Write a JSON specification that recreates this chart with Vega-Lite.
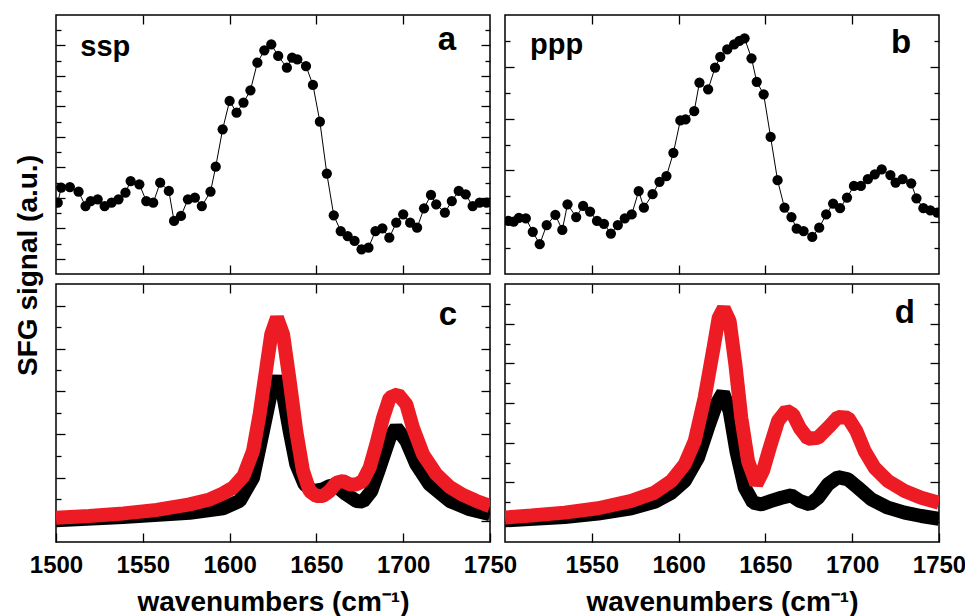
{
  "$schema": "https://vega.github.io/schema/vega-lite/v6.json",
  "background": "white",
  "padding": {"left": 13, "top": 13, "right": 0, "bottom": 0},
  "config": {
    "view": {"stroke": "black", "strokeWidth": 1.5},
    "font": "Liberation Sans",
    "axis": {"domain": false, "grid": false, "tickColor": "black", "tickWidth": 1.3, "labelFont": "Liberation Sans", "titleFont": "Liberation Sans", "labelFontWeight": "bold", "titleFontWeight": "bold", "labelColor": "black", "titleColor": "black"}
  },
  "datasets": {
    "a": [
      {"wn":1501,"v":4.68},{"wn":1503,"v":5.67},{"wn":1508,"v":5.71},{"wn":1513,"v":5.40},{"wn":1517,"v":4.46},{"wn":1520,"v":4.79},{"wn":1524,"v":4.90},{"wn":1528,"v":4.46},{"wn":1532,"v":4.68},{"wn":1536,"v":4.90},{"wn":1540,"v":5.34},{"wn":1543,"v":6.10},{"wn":1548,"v":5.89},{"wn":1552,"v":4.79},{"wn":1556,"v":4.68},{"wn":1560,"v":5.99},{"wn":1565,"v":5.45},{"wn":1568,"v":3.48},{"wn":1572,"v":3.81},{"wn":1576,"v":4.90},{"wn":1580,"v":5.01},{"wn":1584,"v":4.46},{"wn":1589,"v":5.40},{"wn":1592,"v":7.04},{"wn":1596,"v":9.50},{"wn":1600,"v":11.36},{"wn":1604,"v":10.59},{"wn":1608,"v":11.25},{"wn":1612,"v":12.06},{"wn":1616,"v":13.87},{"wn":1620,"v":14.68},{"wn":1624,"v":15.07},{"wn":1628,"v":14.31},{"wn":1633,"v":13.54},{"wn":1636,"v":14.20},{"wn":1639,"v":14.09},{"wn":1644,"v":13.65},{"wn":1648,"v":12.41},{"wn":1652,"v":10.00},{"wn":1656,"v":6.59},{"wn":1660,"v":3.85},{"wn":1664,"v":2.82},{"wn":1668,"v":2.49},{"wn":1672,"v":2.17},{"wn":1676,"v":1.62},{"wn":1680,"v":1.73},{"wn":1684,"v":2.82},{"wn":1688,"v":3.00},{"wn":1692,"v":2.38},{"wn":1696,"v":3.37},{"wn":1700,"v":3.92},{"wn":1704,"v":3.37},{"wn":1708,"v":3.04},{"wn":1712,"v":4.31},{"wn":1716,"v":5.19},{"wn":1719,"v":4.57},{"wn":1724,"v":4.03},{"wn":1728,"v":4.79},{"wn":1732,"v":5.45},{"wn":1736,"v":5.23},{"wn":1740,"v":4.46},{"wn":1744,"v":4.68},{"wn":1748,"v":4.68}
    ],
    "b": [
      {"wn":1502,"v":2.05},{"wn":1505,"v":2.02},{"wn":1508,"v":2.17},{"wn":1512,"v":2.15},{"wn":1516,"v":1.63},{"wn":1520,"v":1.15},{"wn":1524,"v":1.89},{"wn":1529,"v":2.28},{"wn":1533,"v":1.70},{"wn":1536,"v":2.69},{"wn":1541,"v":2.20},{"wn":1545,"v":2.63},{"wn":1549,"v":2.41},{"wn":1553,"v":2.05},{"wn":1557,"v":1.94},{"wn":1561,"v":1.56},{"wn":1565,"v":1.89},{"wn":1569,"v":2.15},{"wn":1573,"v":2.30},{"wn":1577,"v":3.20},{"wn":1580,"v":2.56},{"wn":1585,"v":3.08},{"wn":1589,"v":3.56},{"wn":1593,"v":3.78},{"wn":1597,"v":4.68},{"wn":1601,"v":5.93},{"wn":1604,"v":5.97},{"wn":1609,"v":6.29},{"wn":1612,"v":7.39},{"wn":1617,"v":7.13},{"wn":1621,"v":7.97},{"wn":1624,"v":8.38},{"wn":1628,"v":8.67},{"wn":1632,"v":8.87},{"wn":1635,"v":9.00},{"wn":1638,"v":9.10},{"wn":1642,"v":8.33},{"wn":1645,"v":7.42},{"wn":1649,"v":6.94},{"wn":1653,"v":5.29},{"wn":1657,"v":3.62},{"wn":1661,"v":2.56},{"wn":1665,"v":2.20},{"wn":1668,"v":1.75},{"wn":1672,"v":1.66},{"wn":1677,"v":1.43},{"wn":1681,"v":1.79},{"wn":1685,"v":2.30},{"wn":1689,"v":2.72},{"wn":1693,"v":2.54},{"wn":1697,"v":2.95},{"wn":1701,"v":3.40},{"wn":1705,"v":3.40},{"wn":1709,"v":3.66},{"wn":1713,"v":3.85},{"wn":1717,"v":4.04},{"wn":1722,"v":3.82},{"wn":1725,"v":3.53},{"wn":1729,"v":3.66},{"wn":1734,"v":3.50},{"wn":1737,"v":2.92},{"wn":1741,"v":2.54},{"wn":1745,"v":2.46},{"wn":1749,"v":2.37}
    ],
    "c_red": [
      {"wn":1500,"v":1.13},{"wn":1519,"v":1.21},{"wn":1539,"v":1.33},{"wn":1558,"v":1.49},{"wn":1577,"v":1.75},{"wn":1588.5,"v":1.98},{"wn":1596,"v":2.25},{"wn":1602,"v":2.53},{"wn":1608,"v":3.07},{"wn":1613.5,"v":4.23},{"wn":1617.3,"v":5.94},{"wn":1621.2,"v":8.11},{"wn":1624,"v":9.66},{"wn":1627.3,"v":10.43},{"wn":1630.8,"v":9.66},{"wn":1634.6,"v":7.49},{"wn":1638.4,"v":5.16},{"wn":1642.3,"v":3.30},{"wn":1646.1,"v":2.37},{"wn":1650,"v":2.14},{"wn":1653.8,"v":2.14},{"wn":1657.6,"v":2.37},{"wn":1661.5,"v":2.76},{"wn":1665.3,"v":2.84},{"wn":1669.2,"v":2.68},{"wn":1673,"v":2.68},{"wn":1676.8,"v":2.84},{"wn":1680.7,"v":3.46},{"wn":1684.5,"v":4.54},{"wn":1688.4,"v":5.78},{"wn":1692.2,"v":6.71},{"wn":1697,"v":6.87},{"wn":1701.8,"v":6.40},{"wn":1705.6,"v":5.32},{"wn":1711.4,"v":4.08},{"wn":1719.1,"v":3.15},{"wn":1726.8,"v":2.56},{"wn":1734.4,"v":2.19},{"wn":1742.1,"v":1.91},{"wn":1750,"v":1.67}
    ],
    "c_black": [
      {"wn":1500,"v":1.01},{"wn":1538.6,"v":1.16},{"wn":1577,"v":1.36},{"wn":1596.2,"v":1.57},{"wn":1605.8,"v":1.91},{"wn":1613.5,"v":2.99},{"wn":1619.2,"v":5.16},{"wn":1624,"v":7.02},{"wn":1627.3,"v":7.67},{"wn":1630.8,"v":6.87},{"wn":1634.6,"v":5.16},{"wn":1638.4,"v":3.61},{"wn":1643.2,"v":2.68},{"wn":1648,"v":2.37},{"wn":1653.8,"v":2.45},{"wn":1657.6,"v":2.60},{"wn":1661.5,"v":2.60},{"wn":1667.2,"v":2.22},{"wn":1673,"v":1.91},{"wn":1676.8,"v":1.88},{"wn":1681.6,"v":2.37},{"wn":1686.4,"v":3.46},{"wn":1692.2,"v":4.85},{"wn":1696,"v":5.32},{"wn":1701.8,"v":4.70},{"wn":1707.6,"v":3.61},{"wn":1715.2,"v":2.68},{"wn":1726.8,"v":1.91},{"wn":1738.3,"v":1.52},{"wn":1750,"v":1.29}
    ],
    "d_red": [
      {"wn":1500,"v":1.23},{"wn":1515.2,"v":1.34},{"wn":1534.4,"v":1.48},{"wn":1553.6,"v":1.70},{"wn":1572.8,"v":2.07},{"wn":1586.2,"v":2.49},{"wn":1595.8,"v":3.07},{"wn":1603.5,"v":3.91},{"wn":1609.3,"v":5.09},{"wn":1615,"v":7.27},{"wn":1619.8,"v":9.62},{"wn":1623.1,"v":11.30},{"wn":1626,"v":11.77},{"wn":1629.4,"v":11.13},{"wn":1632.7,"v":8.95},{"wn":1636.1,"v":6.26},{"wn":1640,"v":4.08},{"wn":1644.8,"v":2.91},{"wn":1648.6,"v":3.58},{"wn":1652.5,"v":4.75},{"wn":1657.3,"v":6.10},{"wn":1662.1,"v":6.63},{"wn":1665.9,"v":6.43},{"wn":1669.7,"v":5.76},{"wn":1674.5,"v":5.20},{"wn":1680.3,"v":5.25},{"wn":1686.1,"v":5.76},{"wn":1691.8,"v":6.30},{"wn":1697.6,"v":6.26},{"wn":1702.4,"v":5.59},{"wn":1707.2,"v":4.58},{"wn":1712.9,"v":3.74},{"wn":1720.6,"v":3.07},{"wn":1730.2,"v":2.57},{"wn":1739.8,"v":2.23},{"wn":1750,"v":1.98}
    ],
    "d_black": [
      {"wn":1500,"v":1.09},{"wn":1534.4,"v":1.26},{"wn":1553.6,"v":1.43},{"wn":1572.8,"v":1.70},{"wn":1586.2,"v":2.03},{"wn":1595.8,"v":2.48},{"wn":1603.5,"v":3.07},{"wn":1611.2,"v":4.25},{"wn":1616.9,"v":5.76},{"wn":1621.7,"v":6.94},{"wn":1625.6,"v":7.52},{"wn":1629.4,"v":6.60},{"wn":1633.3,"v":4.58},{"wn":1638.1,"v":2.74},{"wn":1642.9,"v":1.98},{"wn":1647.7,"v":1.90},{"wn":1653.4,"v":2.07},{"wn":1659.2,"v":2.23},{"wn":1664.9,"v":2.35},{"wn":1669.7,"v":2.07},{"wn":1675.5,"v":1.90},{"wn":1680.3,"v":2.23},{"wn":1686.1,"v":2.91},{"wn":1691.8,"v":3.27},{"wn":1697.6,"v":3.16},{"wn":1703.3,"v":2.74},{"wn":1711,"v":2.15},{"wn":1720.6,"v":1.73},{"wn":1730.2,"v":1.48},{"wn":1739.8,"v":1.31},{"wn":1750,"v":1.17}
    ],
    "one": [{"k": 1}]
  },
  "columns": 2,
  "spacing": {"row": 10, "column": 15},
  "bounds": "flush",
  "concat": [
    {
      "width": 434, "height": 259,
      "resolve": {"axis": {"x": "independent", "y": "independent"}},
      "layer": [
        {"data": {"name": "a"}, "mark": {"type": "line", "color": "black", "strokeWidth": 1, "clip": true},
         "encoding": {
           "x": {"field": "wn", "type": "quantitative", "scale": {"domain": [1500, 1750], "nice": false, "zero": false}, "axis": {"orient": "bottom", "values": [1550, 1600, 1650, 1700], "labels": false, "tickSize": -9, "title": null}},
           "y": {"field": "v", "type": "quantitative", "scale": {"domain": [0, 17], "nice": false, "zero": false}, "axis": {"orient": "left", "values": [1, 3, 5, 7, 9, 11, 13, 15], "labels": false, "tickSize": -9, "title": "SFG signal (a.u.)", "titleFontSize": 28, "titleX": -20, "titleY": 250, "titleBaseline": "alphabetic", "titleAngle": 270}}
         }},
        {"data": {"name": "a"}, "mark": {"type": "point", "shape": "circle", "filled": true, "color": "black", "opacity": 1, "size": 105, "clip": true},
         "encoding": {
           "x": {"field": "wn", "type": "quantitative", "axis": {"orient": "top", "values": [1550, 1600, 1650, 1700], "labels": false, "tickSize": -9, "title": null}},
           "y": {"field": "v", "type": "quantitative", "axis": {"orient": "right", "values": [1, 3, 5, 7, 9, 11, 13, 15], "labels": false, "tickSize": -9, "title": null}}
         }},
        {"data": {"name": "a"}, "mark": {"type": "line", "opacity": 0},
         "encoding": {
           "x": {"field": "wn", "type": "quantitative", "axis": null},
           "y": {"field": "v", "type": "quantitative", "axis": {"orient": "left", "values": [2, 4, 6, 8, 10, 12, 14, 16], "labels": false, "tickSize": -5, "title": null}}
         }},
        {"data": {"name": "a"}, "mark": {"type": "line", "opacity": 0},
         "encoding": {
           "x": {"field": "wn", "type": "quantitative", "axis": null},
           "y": {"field": "v", "type": "quantitative", "axis": {"orient": "right", "values": [2, 4, 6, 8, 10, 12, 14, 16], "labels": false, "tickSize": -5, "title": null}}
         }},
        {"data": {"name": "one"}, "mark": {"type": "text", "text": "ssp", "align": "left", "baseline": "alphabetic", "fontSize": 29, "fontWeight": "bold", "color": "black"},
         "encoding": {"x": {"datum": 1514, "type": "quantitative", "axis": null}, "y": {"datum": 14.31, "type": "quantitative", "axis": null}}},
        {"data": {"name": "one"}, "mark": {"type": "text", "text": "a", "align": "right", "baseline": "alphabetic", "fontSize": 33, "fontWeight": "bold", "color": "black"},
         "encoding": {"x": {"datum": 1730.5, "type": "quantitative", "axis": null}, "y": {"datum": 14.7, "type": "quantitative", "axis": null}}}
      ]
    },
    {
      "width": 434, "height": 259,
      "resolve": {"axis": {"x": "independent", "y": "independent"}},
      "layer": [
        {"data": {"name": "b"}, "mark": {"type": "line", "color": "black", "strokeWidth": 1, "clip": true},
         "encoding": {
           "x": {"field": "wn", "type": "quantitative", "scale": {"domain": [1500, 1750], "nice": false, "zero": false}, "axis": {"orient": "bottom", "values": [1550, 1600, 1650, 1700], "labels": false, "tickSize": -9, "title": null}},
           "y": {"field": "v", "type": "quantitative", "scale": {"domain": [0, 10], "nice": false, "zero": false}, "axis": {"orient": "left", "values": [2, 4, 6, 8], "labels": false, "tickSize": -9, "title": null}}
         }},
        {"data": {"name": "b"}, "mark": {"type": "point", "shape": "circle", "filled": true, "color": "black", "opacity": 1, "size": 105, "clip": true},
         "encoding": {
           "x": {"field": "wn", "type": "quantitative", "axis": {"orient": "top", "values": [1550, 1600, 1650, 1700], "labels": false, "tickSize": -9, "title": null}},
           "y": {"field": "v", "type": "quantitative", "axis": {"orient": "right", "values": [2, 4, 6, 8], "labels": false, "tickSize": -9, "title": null}}
         }},
        {"data": {"name": "b"}, "mark": {"type": "line", "opacity": 0},
         "encoding": {
           "x": {"field": "wn", "type": "quantitative", "axis": null},
           "y": {"field": "v", "type": "quantitative", "axis": {"orient": "left", "values": [1, 3, 5, 7, 9], "labels": false, "tickSize": -5, "title": null}}
         }},
        {"data": {"name": "b"}, "mark": {"type": "line", "opacity": 0},
         "encoding": {
           "x": {"field": "wn", "type": "quantitative", "axis": null},
           "y": {"field": "v", "type": "quantitative", "axis": {"orient": "right", "values": [1, 3, 5, 7, 9], "labels": false, "tickSize": -5, "title": null}}
         }},
        {"data": {"name": "one"}, "mark": {"type": "text", "text": "ppp", "align": "left", "baseline": "alphabetic", "fontSize": 29, "fontWeight": "bold", "color": "black"},
         "encoding": {"x": {"datum": 1514.4, "type": "quantitative", "axis": null}, "y": {"datum": 8.49, "type": "quantitative", "axis": null}}},
        {"data": {"name": "one"}, "mark": {"type": "text", "text": "b", "align": "right", "baseline": "alphabetic", "fontSize": 33, "fontWeight": "bold", "color": "black"},
         "encoding": {"x": {"datum": 1733.9, "type": "quantitative", "axis": null}, "y": {"datum": 8.54, "type": "quantitative", "axis": null}}}
      ]
    },
    {
      "width": 434, "height": 258,
      "resolve": {"axis": {"x": "independent", "y": "independent"}},
      "layer": [
        {"data": {"name": "c_black"}, "mark": {"type": "line", "color": "black", "strokeWidth": 14, "strokeJoin": "bevel", "clip": true},
         "encoding": {
           "x": {"field": "wn", "type": "quantitative", "scale": {"domain": [1500, 1750], "nice": false, "zero": false}, "axis": {"orient": "bottom", "values": [1500, 1550, 1600, 1650, 1700, 1750], "format": "d", "labels": true, "labelFlush": false, "labelOverlap": false, "labelBound": false, "labelFontSize": 24, "labelPadding": 20, "tickSize": -9, "title": "wavenumbers (cm⁻¹)", "titleFontSize": 28, "titleY": 68, "titleBaseline": "alphabetic"}},
           "y": {"field": "v", "type": "quantitative", "scale": {"domain": [0, 12], "nice": false, "zero": false}, "axis": {"orient": "left", "values": [1, 3, 5, 7, 9, 11], "labels": false, "tickSize": -9, "title": null}}
         }},
        {"data": {"name": "c_red"}, "mark": {"type": "line", "color": "#ED1C24", "strokeWidth": 14, "strokeJoin": "bevel", "clip": true},
         "encoding": {
           "x": {"field": "wn", "type": "quantitative", "axis": {"orient": "top", "values": [1550, 1600, 1650, 1700], "labels": false, "tickSize": -9, "title": null}},
           "y": {"field": "v", "type": "quantitative", "axis": {"orient": "right", "values": [1, 3, 5, 7, 9, 11], "labels": false, "tickSize": -9, "title": null}}
         }},
        {"data": {"name": "c_black"}, "mark": {"type": "line", "opacity": 0},
         "encoding": {
           "x": {"field": "wn", "type": "quantitative", "axis": null},
           "y": {"field": "v", "type": "quantitative", "axis": {"orient": "left", "values": [2, 4, 6, 8, 10], "labels": false, "tickSize": -5, "title": null}}
         }},
        {"data": {"name": "c_black"}, "mark": {"type": "line", "opacity": 0},
         "encoding": {
           "x": {"field": "wn", "type": "quantitative", "axis": null},
           "y": {"field": "v", "type": "quantitative", "axis": {"orient": "right", "values": [2, 4, 6, 8, 10], "labels": false, "tickSize": -5, "title": null}}
         }},
        {"data": {"name": "one"}, "mark": {"type": "text", "text": "c", "align": "right", "baseline": "alphabetic", "fontSize": 33, "fontWeight": "bold", "color": "black"},
         "encoding": {"x": {"datum": 1731, "type": "quantitative", "axis": null}, "y": {"datum": 10.09, "type": "quantitative", "axis": null}}}
      ]
    },
    {
      "width": 434, "height": 258,
      "resolve": {"axis": {"x": "independent", "y": "independent"}},
      "layer": [
        {"data": {"name": "d_black"}, "mark": {"type": "line", "color": "black", "strokeWidth": 14, "strokeJoin": "bevel", "clip": true},
         "encoding": {
           "x": {"field": "wn", "type": "quantitative", "scale": {"domain": [1500, 1750], "nice": false, "zero": false}, "axis": {"orient": "bottom", "values": [1550, 1600, 1650, 1700, 1750], "format": "d", "labels": true, "labelFlush": false, "labelOverlap": false, "labelBound": false, "labelFontSize": 24, "labelPadding": 20, "tickSize": -9, "title": "wavenumbers (cm⁻¹)", "titleFontSize": 28, "titleY": 68, "titleBaseline": "alphabetic"}},
           "y": {"field": "v", "type": "quantitative", "scale": {"domain": [0, 13], "nice": false, "zero": false}, "axis": {"orient": "left", "values": [1, 3, 5, 7, 9, 11], "labels": false, "tickSize": -9, "title": null}}
         }},
        {"data": {"name": "d_red"}, "mark": {"type": "line", "color": "#ED1C24", "strokeWidth": 14, "strokeJoin": "bevel", "clip": true},
         "encoding": {
           "x": {"field": "wn", "type": "quantitative", "axis": {"orient": "top", "values": [1550, 1600, 1650, 1700], "labels": false, "tickSize": -9, "title": null}},
           "y": {"field": "v", "type": "quantitative", "axis": {"orient": "right", "values": [1, 3, 5, 7, 9, 11], "labels": false, "tickSize": -9, "title": null}}
         }},
        {"data": {"name": "d_black"}, "mark": {"type": "line", "opacity": 0},
         "encoding": {
           "x": {"field": "wn", "type": "quantitative", "axis": null},
           "y": {"field": "v", "type": "quantitative", "axis": {"orient": "left", "values": [2, 4, 6, 8, 10, 12], "labels": false, "tickSize": -5, "title": null}}
         }},
        {"data": {"name": "d_black"}, "mark": {"type": "line", "opacity": 0},
         "encoding": {
           "x": {"field": "wn", "type": "quantitative", "axis": null},
           "y": {"field": "v", "type": "quantitative", "axis": {"orient": "right", "values": [2, 4, 6, 8, 10, 12], "labels": false, "tickSize": -5, "title": null}}
         }},
        {"data": {"name": "one"}, "mark": {"type": "text", "text": "d", "align": "right", "baseline": "alphabetic", "fontSize": 33, "fontWeight": "bold", "color": "black"},
         "encoding": {"x": {"datum": 1736.2, "type": "quantitative", "axis": null}, "y": {"datum": 11.03, "type": "quantitative", "axis": null}}}
      ]
    }
  ]
}
